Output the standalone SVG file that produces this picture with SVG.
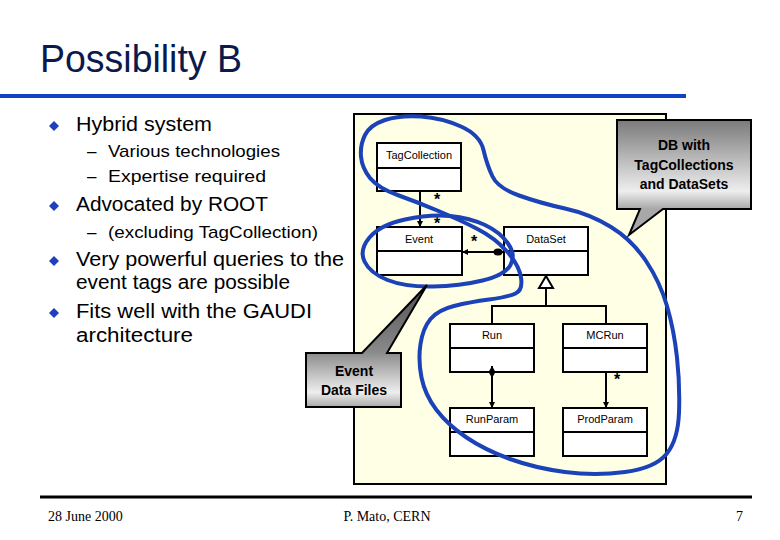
<svg xmlns="http://www.w3.org/2000/svg" width="780" height="540" viewBox="0 0 780 540">
<defs>
<style>
.bt{font-family:"Liberation Sans","DejaVu Sans",sans-serif;font-size:20px;fill:#000}
.st{font-family:"Liberation Sans","DejaVu Sans",sans-serif;font-size:17px;fill:#000}
.box{fill:#fff;stroke:#000;stroke-width:2}
.ln{stroke:#000;stroke-width:2;fill:none}
.ut{font-family:"Liberation Sans","DejaVu Sans",sans-serif;font-size:11px;fill:#000;text-anchor:middle}
.star{font-family:"Liberation Sans","DejaVu Sans",sans-serif;font-size:16px;font-weight:bold;fill:#000;text-anchor:middle}
.blue{fill:none;stroke:#1c42b8;stroke-width:4;stroke-linejoin:round}
.ct{font-family:"Liberation Sans","DejaVu Sans",sans-serif;font-size:14px;font-weight:bold;fill:#000;text-anchor:middle}
.ft{font-family:"Liberation Serif","DejaVu Serif",serif;font-size:14px;fill:#000}
.bul{fill:#1f3fbf}
</style>
<linearGradient id="g1" gradientUnits="userSpaceOnUse" x1="0" y1="120" x2="0" y2="209">
<stop offset="0" stop-color="#7a7a7a"/>
<stop offset="0.8" stop-color="#eeeeee"/>
<stop offset="1" stop-color="#a8a8a8"/>
</linearGradient>
<linearGradient id="g2" gradientUnits="userSpaceOnUse" x1="0" y1="285" x2="0" y2="407">
<stop offset="0" stop-color="#505050"/>
<stop offset="0.55" stop-color="#8a8a8a"/>
<stop offset="0.88" stop-color="#eeeeee"/>
<stop offset="1" stop-color="#a8a8a8"/>
</linearGradient>
<marker id="arr" viewBox="0 0 6 6" refX="6" refY="3" markerWidth="6" markerHeight="6" markerUnits="userSpaceOnUse" orient="auto">
<path d="M0,0 L6,3 L0,6 z" fill="#000"/>
</marker>
<marker id="dia" viewBox="0 0 12 7" refX="0" refY="3.5" markerWidth="12" markerHeight="7" markerUnits="userSpaceOnUse" orient="auto">
<path d="M0,3.5 L6,0 L12,3.5 L6,7 z" fill="#000"/>
</marker>
</defs>

<rect x="0" y="0" width="780" height="540" fill="#fff"/>

<g id="title">
<text x="40" y="72" font-family="Liberation Sans, DejaVu Sans, sans-serif" font-size="38" fill="#0b1a4c" textLength="202" lengthAdjust="spacingAndGlyphs">Possibility B</text>
<rect x="0" y="94" width="686" height="4" fill="#1242c4"/>
</g>

<g id="bullets">
<polygon class="bul" points="54,121 59,126 54,131 49,126"/>
<text class="bt" x="76" y="131" textLength="136" lengthAdjust="spacingAndGlyphs">Hybrid system</text>
<text class="st" x="87" y="157">–</text>
<text class="st" x="108" y="157" textLength="172" lengthAdjust="spacingAndGlyphs">Various technologies</text>
<text class="st" x="87" y="182">–</text>
<text class="st" x="108" y="182" textLength="158" lengthAdjust="spacingAndGlyphs">Expertise required</text>
<polygon class="bul" points="54,201 59,206 54,211 49,206"/>
<text class="bt" x="76" y="211" textLength="192" lengthAdjust="spacingAndGlyphs">Advocated by ROOT</text>
<text class="st" x="87" y="238">–</text>
<text class="st" x="108" y="238" textLength="210" lengthAdjust="spacingAndGlyphs">(excluding TagCollection)</text>
<polygon class="bul" points="54,256 59,261 54,266 49,261"/>
<text class="bt" x="76" y="266" textLength="268" lengthAdjust="spacingAndGlyphs">Very powerful queries to the</text>
<text class="bt" x="76" y="289" textLength="214" lengthAdjust="spacingAndGlyphs">event tags are possible</text>
<polygon class="bul" points="54,308 59,313 54,318 49,313"/>
<text class="bt" x="76" y="318" textLength="236" lengthAdjust="spacingAndGlyphs">Fits well with the GAUDI</text>
<text class="bt" x="76" y="342" textLength="117" lengthAdjust="spacingAndGlyphs">architecture</text>
</g>

<g id="panel">
<rect x="354" y="114" width="312" height="370" fill="#ffffe6" stroke="#000" stroke-width="2"/>
</g>

<g id="TagCollection">
<rect class="box" x="377" y="143" width="84" height="48"/>
<line class="ln" x1="377" y1="168" x2="461" y2="168"/>
<text class="ut" x="419" y="159">TagCollection</text>
</g>
<g id="Event">
<rect class="box" x="377" y="227" width="85" height="48"/>
<line class="ln" x1="377" y1="251" x2="462" y2="251"/>
<text class="ut" x="419" y="243">Event</text>
</g>
<g id="DataSet">
<rect class="box" x="504" y="227" width="84" height="48"/>
<line class="ln" x1="504" y1="251" x2="588" y2="251"/>
<text class="ut" x="546" y="243">DataSet</text>
</g>
<g id="Run">
<rect class="box" x="450" y="324" width="84" height="48"/>
<line class="ln" x1="450" y1="348" x2="534" y2="348"/>
<text class="ut" x="492" y="339">Run</text>
</g>
<g id="MCRun">
<rect class="box" x="563" y="324" width="84" height="48"/>
<line class="ln" x1="563" y1="348" x2="647" y2="348"/>
<text class="ut" x="605" y="339">MCRun</text>
</g>
<g id="RunParam">
<rect class="box" x="450" y="408" width="84" height="48"/>
<line class="ln" x1="450" y1="432" x2="534" y2="432"/>
<text class="ut" x="492" y="423">RunParam</text>
</g>
<g id="ProdParam">
<rect class="box" x="563" y="408" width="84" height="48"/>
<line class="ln" x1="563" y1="432" x2="647" y2="432"/>
<text class="ut" x="605" y="423">ProdParam</text>
</g>

<g id="connectors">
<path class="ln" d="M420,191 L420,227" marker-end="url(#arr)"/>
<text class="star" x="437" y="205">*</text>
<text class="star" x="437" y="229">*</text>
<path class="ln" d="M504,252 L462,252" marker-end="url(#arr)"/>
<ellipse cx="498" cy="252" rx="4.5" ry="3.5" fill="#000"/>
<text class="star" x="474" y="247">*</text>
<path class="ln" d="M546,288 L546,306 M492,324 L492,306 L606,306 L606,324"/>
<polygon points="546,276 539,288 553,288" fill="#fff" stroke="#000" stroke-width="2"/>
<path class="ln" d="M492,366 L492,408" marker-start="url(#dia)" marker-end="url(#arr)"/>
<path class="ln" d="M606,372 L606,408" marker-end="url(#arr)"/>
<text class="star" x="617" y="385">*</text>
</g>

<g id="outlines">
<path class="blue" d="M515.5,293.5 Q523,290 521,277.5 Q519,265 507,251.5 Q495,238 477.5,229 Q460,220 438.5,211 Q417,202 397.5,195 Q378,188 370,178 Q362,168 361,156.5 Q360,145 365,135 Q370,125 385,120 Q400,115 421,116.5 Q442,118 461,126.5 Q480,135 483.5,150 Q487,165 492.5,176.5 Q498,188 519,195.5 Q540,203 565,208.5 Q590,214 611,227 Q632,240 646,261 Q660,282 667,306 Q674,330 677,357.5 Q680,385 679,412.5 Q678,440 666.5,454 Q655,468 625,472 Q595,476 565,472 Q535,468 510,459 Q485,450 466.5,437.5 Q448,425 436.5,410 Q425,395 421.5,377.5 Q418,360 420.5,344 Q423,328 430.5,319 Q438,310 454,306 Q470,302 489,299.5 Q508,297 515.5,293.5 Z"/>
<path class="blue" d="M405,219.5 Q430,214 450,216 Q470,218 485,225 Q500,232 508,243.5 Q516,255 510.5,265 Q505,275 482.5,280.5 Q460,286 432.5,286.5 Q405,287 387.5,280 Q370,273 364.5,261.5 Q359,250 369.5,237.5 Q380,225 405,219.5 Z"/>
</g>

<g id="callout-db">
<path d="M617,120 L751,120 L751,209 L663,209 L629,235 L640,209 L617,209 Z" fill="url(#g1)" stroke="#000" stroke-width="2" stroke-linejoin="miter"/>
<text class="ct" x="684" y="150">DB with</text>
<text class="ct" x="684" y="170">TagCollections</text>
<text class="ct" x="684" y="189">and DataSets</text>
</g>

<g id="callout-files">
<path d="M306,353 L362,353 L427,285 L387,353 L401,353 L401,407 L306,407 Z" fill="url(#g2)" stroke="#000" stroke-width="2" stroke-linejoin="miter"/>
<text class="ct" x="354" y="376">Event</text>
<text class="ct" x="354" y="395">Data Files</text>
</g>

<g id="footer">
<rect x="40" y="495.5" width="712" height="3" fill="#000"/>
<text class="ft" x="48" y="521">28 June 2000</text>
<text class="ft" x="387" y="521" text-anchor="middle">P. Mato, CERN</text>
<text class="ft" x="736" y="521">7</text>
</g>
</svg>
